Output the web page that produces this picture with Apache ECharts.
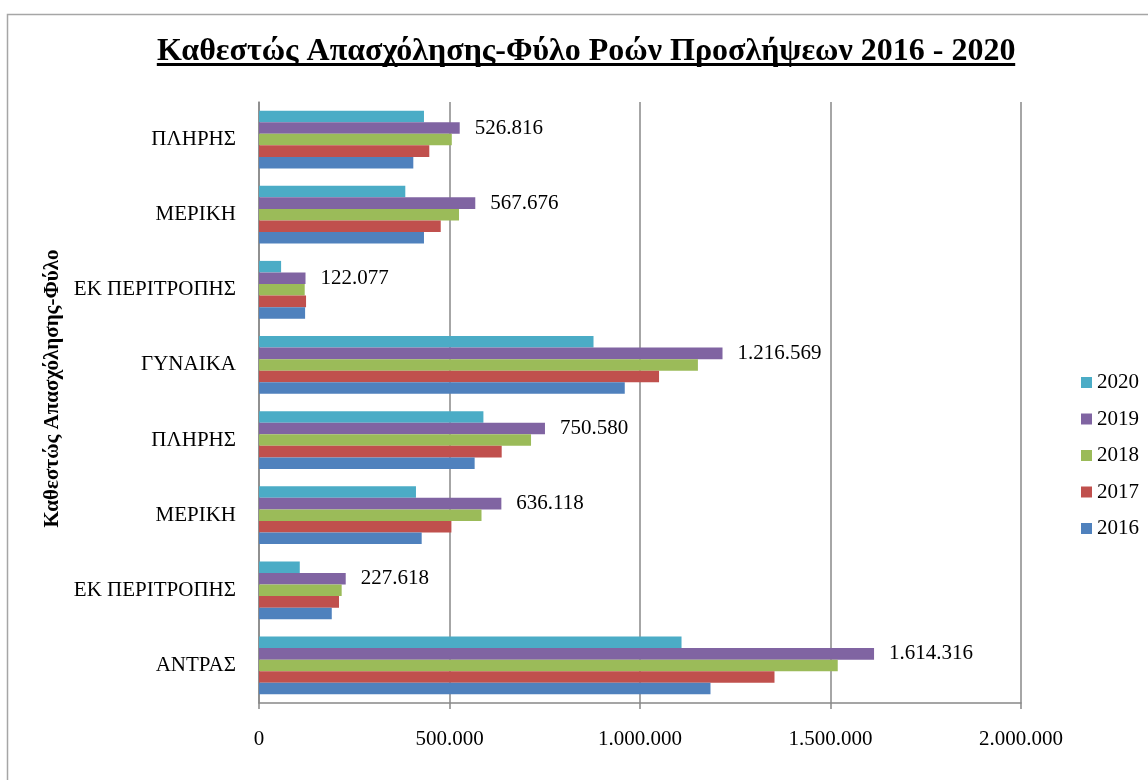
<!DOCTYPE html>
<html>
<head>
<meta charset="utf-8">
<script src="https://cdn.jsdelivr.net/npm/echarts@6/dist/echarts.min.js"></script>
<style>
html,body{margin:0;padding:0;background:#fff;}
#c{width:1148px;height:780px;}
</style>
</head>
<body>
<div id="c"></div>
<script>
const titleText = 'Καθεστώς Απασχόλησης-Φύλο Ροών Προσλήψεων 2016 - 2020';
const yAxisName = 'Καθεστώς Απασχόλησης-Φύλο';
const categories = ['ΑΝΤΡΑΣ','ΕΚ ΠΕΡΙΤΡΟΠΗΣ','ΜΕΡΙΚΗ','ΠΛΗΡΗΣ','ΓΥΝΑΙΚΑ','ΕΚ ΠΕΡΙΤΡΟΠΗΣ','ΜΕΡΙΚΗ','ΠΛΗΡΗΣ'];
const years = ['2016','2017','2018','2019','2020'];
const v2016 = [1185000, 191000, 427000, 566000, 960000, 121000, 433000, 405000];
const v2017 = [1353000, 210000, 505000, 637000, 1050000, 123500, 477000, 447000];
const v2018 = [1519000, 217000, 584000, 714000, 1152000, 120000, 525000, 506000];
const v2019 = [1614316, 227618, 636118, 750580, 1216569, 122077, 567676, 526816];
const v2020 = [1109000, 107000, 412000, 589000, 878000, 58000, 384000, 433000];
const xTicks = [0, 500000, 1000000, 1500000, 2000000];
const colors = {'2016':'#4F81BD','2017':'#C0504D','2018':'#9BBB59','2019':'#8064A2','2020':'#4BACC6'};

function fmt(n){ return String(Math.round(n)).replace(/\B(?=(\d{3})+(?!\d))/g, '.'); }

const seriesValues = {'2016':v2016,'2017':v2017,'2018':v2018,'2019':v2019,'2020':v2020};
const labelled = '2019';
const serif = '"Liberation Serif", "DejaVu Serif", serif';

// order: top of group first
const order = ['2020','2019','2018','2017','2016'];
const series = order.map(y => ({
  name: y,
  type: 'bar',
  data: seriesValues[y],
  itemStyle: {color: colors[y]},
  barGap: '0%',
  barCategoryGap: '23%',
  label: {
    show: y === labelled,
    position: 'right',
    distance: 15,
    color: '#000',
    fontFamily: serif,
    fontSize: 21,
    formatter: p => fmt(p.value)
  },
  animation: false
}));

const titleSize = 32;
const ctx = document.createElement('canvas').getContext('2d');
ctx.font = 'bold ' + titleSize + 'px "Liberation Serif"';
const w = ctx.measureText(titleText).width;
const titleCenter = 586;

const chart = echarts.init(document.getElementById('c'), null, {renderer:'canvas'});
chart.setOption({
  backgroundColor: '#fff',
  animation: false,
  title: {
    text: titleText,
    left: Math.round(titleCenter - w/2) - 5,
    top: 31,
    textStyle: {fontFamily: serif, fontWeight: 'bold', fontSize: titleSize, color: '#000'}
  },
  graphic: [
    {type:'rect', left: 5, top: 12, shape:{width:1160, height:800}, style:{fill:'none', stroke:'#a6a6a6', lineWidth:1.5}, silent:true, z:-1},
    {type:'line', shape:{x1: titleCenter - w/2, y1: 64.5, x2: titleCenter + w/2, y2: 64.5}, style:{stroke:'#000', lineWidth:3}, silent:true}
  ],
  legend: {
    data: ['2020','2019','2018','2017','2016'],
    orient: 'vertical',
    left: 1076,
    top: 367,
    itemWidth: 11,
    itemHeight: 11,
    itemGap: 15.5,
    icon: 'rect',
    textStyle: {fontFamily: serif, fontSize: 21, color: '#000'}
  },
  grid: {left: 259, right: 127, top: 102, bottom: 77},
  xAxis: {
    type: 'value',
    min: 0, max: 2000000, interval: 500000,
    axisLine: {show: true, lineStyle: {color: '#888', width: 1.5}},
    axisTick: {show: true, length: 6, lineStyle: {color: '#888', width: 1.5}},
    splitLine: {show: true, lineStyle: {color: '#888', width: 1.5}},
    axisLabel: {margin: 26, fontFamily: serif, fontSize: 21, color: '#000', formatter: v => fmt(v)}
  },
  yAxis: {
    type: 'category',
    data: categories,
    name: yAxisName,
    nameLocation: 'middle',
    nameGap: 196,
    nameRotate: 90,
    nameTextStyle: {fontFamily: serif, fontWeight: 'bold', fontSize: 21, color: '#000', padding: [0,0,0,28]},
    axisLine: {show: true, lineStyle: {color: '#888', width: 1.5}},
    axisTick: {show: false},
    axisLabel: {margin: 23, fontFamily: serif, fontSize: 21, color: '#000'}
  },
  series: series
});
</script>
</body>
</html>
